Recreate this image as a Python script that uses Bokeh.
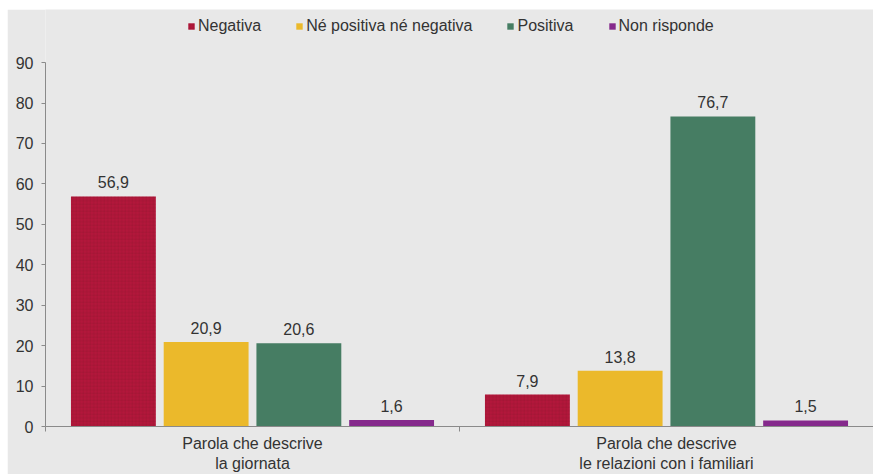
from bokeh.plotting import figure
from bokeh.models import (ColumnDataSource, Range1d, FixedTicker, Legend, LegendItem,
                          LabelSet)
from bokeh.core.properties import value
from bokeh.transform import dodge
from bokeh.embed import file_html
from bokeh.resources import INLINE

groups = ["Parola che descrive\nla giornata", "Parola che descrive\nle relazioni con i familiari"]
series = ["Negativa", "Né positiva né negativa", "Positiva", "Non risponde"]
negativa = [56.9, 7.9]
neutra = [20.9, 13.8]
positiva = [20.6, 76.7]
non_risponde = [1.6, 1.5]
y_ticks = [0, 10, 20, 30, 40, 50, 60, 70, 80, 90]

values = [negativa, neutra, positiva, non_risponde]
colors = ["#b3173b", "#ebb92b", "#467d63", "#85298c"]

BG = "#e8e8e8"
FONT = "Liberation Sans"
TXT = "#333333"
AX = "#8a8a8a"
FS = "16px"

y_max = y_ticks[-1]
# extra headroom above the axis end so the legend sits inside the frame
y_top = y_max + 53 / (363 / y_max)

p = figure(width=866, height=465, output_backend="svg", toolbar_location=None,
           x_range=Range1d(0, len(groups)), y_range=Range1d(0, y_top))
p.margin = (9, 0, 0, 7)
p.background_fill_color = BG
p.border_fill_color = BG
p.outline_line_color = None
p.grid.visible = False
p.min_border_left = 38
p.min_border_right = 0
p.min_border_top = 0
p.min_border_bottom = 48

centers = [i + 0.5 for i in range(len(groups))]
step = 0.224
width = 0.205

items = []
for j, (name, vals, col) in enumerate(zip(series, values, colors)):
    src = ColumnDataSource(dict(x=centers, top=vals,
                                lab=[f"{v:.1f}".replace(".", ",") for v in vals]))
    off = (j - (len(series) - 1) / 2) * step
    kw = {}
    if j == 0:
        kw = dict(hatch_pattern="+", hatch_scale=3.5, hatch_weight=0.6,
                  hatch_color="#7a0f28", hatch_alpha=0.35)
    r = p.vbar(x=dodge("x", off, range=p.x_range), top="top", bottom=0, width=width,
               source=src, fill_color=col, line_color=None, **kw)
    items.append(LegendItem(label=name, renderers=[r]))
    ls = LabelSet(x=dodge("x", off, range=p.x_range), y="top", text="lab", source=src,
                  text_align="center", text_baseline="bottom", y_offset=8,
                  text_font=value(FONT), text_font_size=FS, text_color=TXT)
    p.add_layout(ls)

legend = Legend(items=items, orientation="horizontal", location=(142, 391),
                background_fill_alpha=0, border_line_color=None,
                label_text_font=FONT, label_text_font_size=FS,
                label_text_color=TXT, glyph_width=8, glyph_height=8,
                label_standoff=3, spacing=34, margin=0, padding=2)
p.add_layout(legend, "center")

# y axis
ya = p.yaxis[0]
ya.ticker = FixedTicker(ticks=y_ticks)
ya.bounds = (0, y_max)
ya.minor_tick_line_color = None
ya.major_tick_in = 0
ya.major_tick_out = 4
ya.axis_line_color = AX
ya.major_tick_line_color = AX
ya.major_label_text_font = FONT
ya.major_label_text_font_size = FS
ya.major_label_text_color = TXT
ya.major_label_standoff = 8

# x axis
xa = p.xaxis[0]
xa.ticker = FixedTicker(ticks=centers, minor_ticks=[float(i) for i in range(len(groups) + 1)])
xa.major_label_overrides = {c: g for c, g in zip(centers, groups)}
xa.major_tick_in = 0
xa.major_tick_out = 0
xa.minor_tick_in = 0
xa.minor_tick_out = 5
xa.axis_line_color = AX
xa.minor_tick_line_color = AX
xa.major_label_text_font = FONT
xa.major_label_text_font_size = FS
xa.major_label_text_color = TXT
xa.major_label_standoff = 3

open("out.html", "w").write(file_html(p, INLINE))
